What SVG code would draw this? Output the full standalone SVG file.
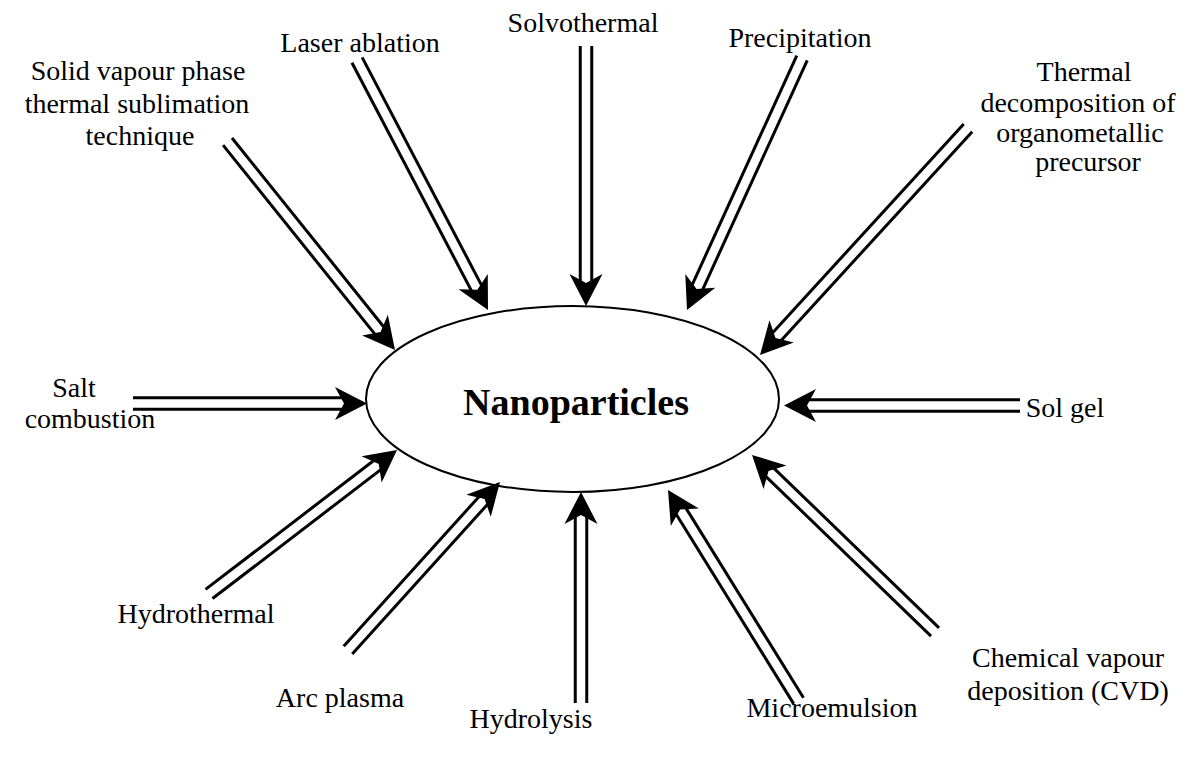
<svg xmlns="http://www.w3.org/2000/svg" xmlns:xlink="http://www.w3.org/1999/xlink" width="1195" height="758" viewBox="0 0 1195 758">
<style>
.t{font-family:"Liberation Serif","Times New Roman",serif;font-size:28px;fill:#000;text-anchor:middle}
.c line{stroke:#000;stroke-width:3}
</style>
<defs>
<path id="head" d="M0,0 L-32,-16.5 L-23,0 L-32,16.5 Z" fill="#000"/>
</defs>
<rect width="1195" height="758" fill="#fff"/>
<g id="center">
<ellipse cx="572.5" cy="399" rx="206.5" ry="93" fill="#fff" stroke="#000" stroke-width="2"/>
<text x="576" y="415" style="font-family:'Liberation Serif','Times New Roman',serif;font-size:38px;font-weight:bold;text-anchor:middle">Nanoparticles</text>
</g>
<g id="connectors" class="c">
<g transform="translate(367,403.5) rotate(0)"><line x1="-234" y1="-5.75" x2="-24" y2="-5.75"/><line x1="-234" y1="5.75" x2="-24" y2="5.75"/><use href="#head"/></g>
<g transform="translate(784,405.5) rotate(180)"><line x1="-236" y1="-5.75" x2="-24" y2="-5.75"/><line x1="-236" y1="5.75" x2="-24" y2="5.75"/><use href="#head"/></g>
<g transform="translate(395,350) rotate(51.22)"><line x1="-267.4" y1="-5.75" x2="-24" y2="-5.75"/><line x1="-267.4" y1="5.75" x2="-24" y2="5.75"/><use href="#head"/></g>
<g transform="translate(488,310) rotate(62.35)"><line x1="-282.2" y1="-5.75" x2="-24" y2="-5.75"/><line x1="-282.2" y1="5.75" x2="-24" y2="5.75"/><use href="#head"/></g>
<g transform="translate(586,306) rotate(90)"><line x1="-260" y1="-5.75" x2="-24" y2="-5.75"/><line x1="-260" y1="5.75" x2="-24" y2="5.75"/><use href="#head"/></g>
<g transform="translate(687,310) rotate(114.53)"><line x1="-277" y1="-5.75" x2="-24" y2="-5.75"/><line x1="-277" y1="5.75" x2="-24" y2="5.75"/><use href="#head"/></g>
<g transform="translate(760,355) rotate(132.49)"><line x1="-307.9" y1="-5.75" x2="-24" y2="-5.75"/><line x1="-307.9" y1="5.75" x2="-24" y2="5.75"/><use href="#head"/></g>
<g transform="translate(397,450) rotate(-37.45)"><line x1="-236.8" y1="-5.75" x2="-24" y2="-5.75"/><line x1="-236.8" y1="5.75" x2="-24" y2="5.75"/><use href="#head"/></g>
<g transform="translate(500,482) rotate(-47.86)"><line x1="-226.6" y1="-5.75" x2="-24" y2="-5.75"/><line x1="-226.6" y1="5.75" x2="-24" y2="5.75"/><use href="#head"/></g>
<g transform="translate(581,492) rotate(-90)"><line x1="-211" y1="-5.75" x2="-24" y2="-5.75"/><line x1="-211" y1="5.75" x2="-24" y2="5.75"/><use href="#head"/></g>
<g transform="translate(668,490) rotate(-121.77)"><line x1="-248" y1="-5.75" x2="-24" y2="-5.75"/><line x1="-248" y1="5.75" x2="-24" y2="5.75"/><use href="#head"/></g>
<g transform="translate(752,455) rotate(-135.96)"><line x1="-254.6" y1="-5.75" x2="-24" y2="-5.75"/><line x1="-254.6" y1="5.75" x2="-24" y2="5.75"/><use href="#head"/></g>
</g>
<g id="solid-vapour"><text class="t" x="138" y="80">Solid vapour phase</text><text class="t" x="137" y="113">thermal sublimation</text><text class="t" x="140" y="145">technique</text></g>
<g id="laser"><text class="t" x="360" y="52">Laser ablation</text></g>
<g id="solvothermal"><text class="t" x="583" y="32">Solvothermal</text></g>
<g id="precipitation"><text class="t" x="800" y="47">Precipitation</text></g>
<g id="thermal-decomp"><text class="t" x="1084" y="81">Thermal</text><text class="t" x="1078" y="112">decomposition of</text><text class="t" x="1080" y="142">organometallic</text><text class="t" x="1088" y="171">precursor</text></g>
<g id="salt"><text class="t" x="74" y="397">Salt</text><text class="t" x="90" y="428">combustion</text></g>
<g id="solgel"><text class="t" x="1065" y="417">Sol gel</text></g>
<g id="hydrothermal"><text class="t" x="196" y="623">Hydrothermal</text></g>
<g id="arcplasma"><text class="t" x="340" y="707">Arc plasma</text></g>
<g id="hydrolysis"><text class="t" x="531" y="728">Hydrolysis</text></g>
<g id="microemulsion"><text class="t" x="832" y="717">Microemulsion</text></g>
<g id="cvd"><text class="t" x="1068" y="667">Chemical vapour</text><text class="t" x="1068" y="700">deposition (CVD)</text></g>
</svg>
